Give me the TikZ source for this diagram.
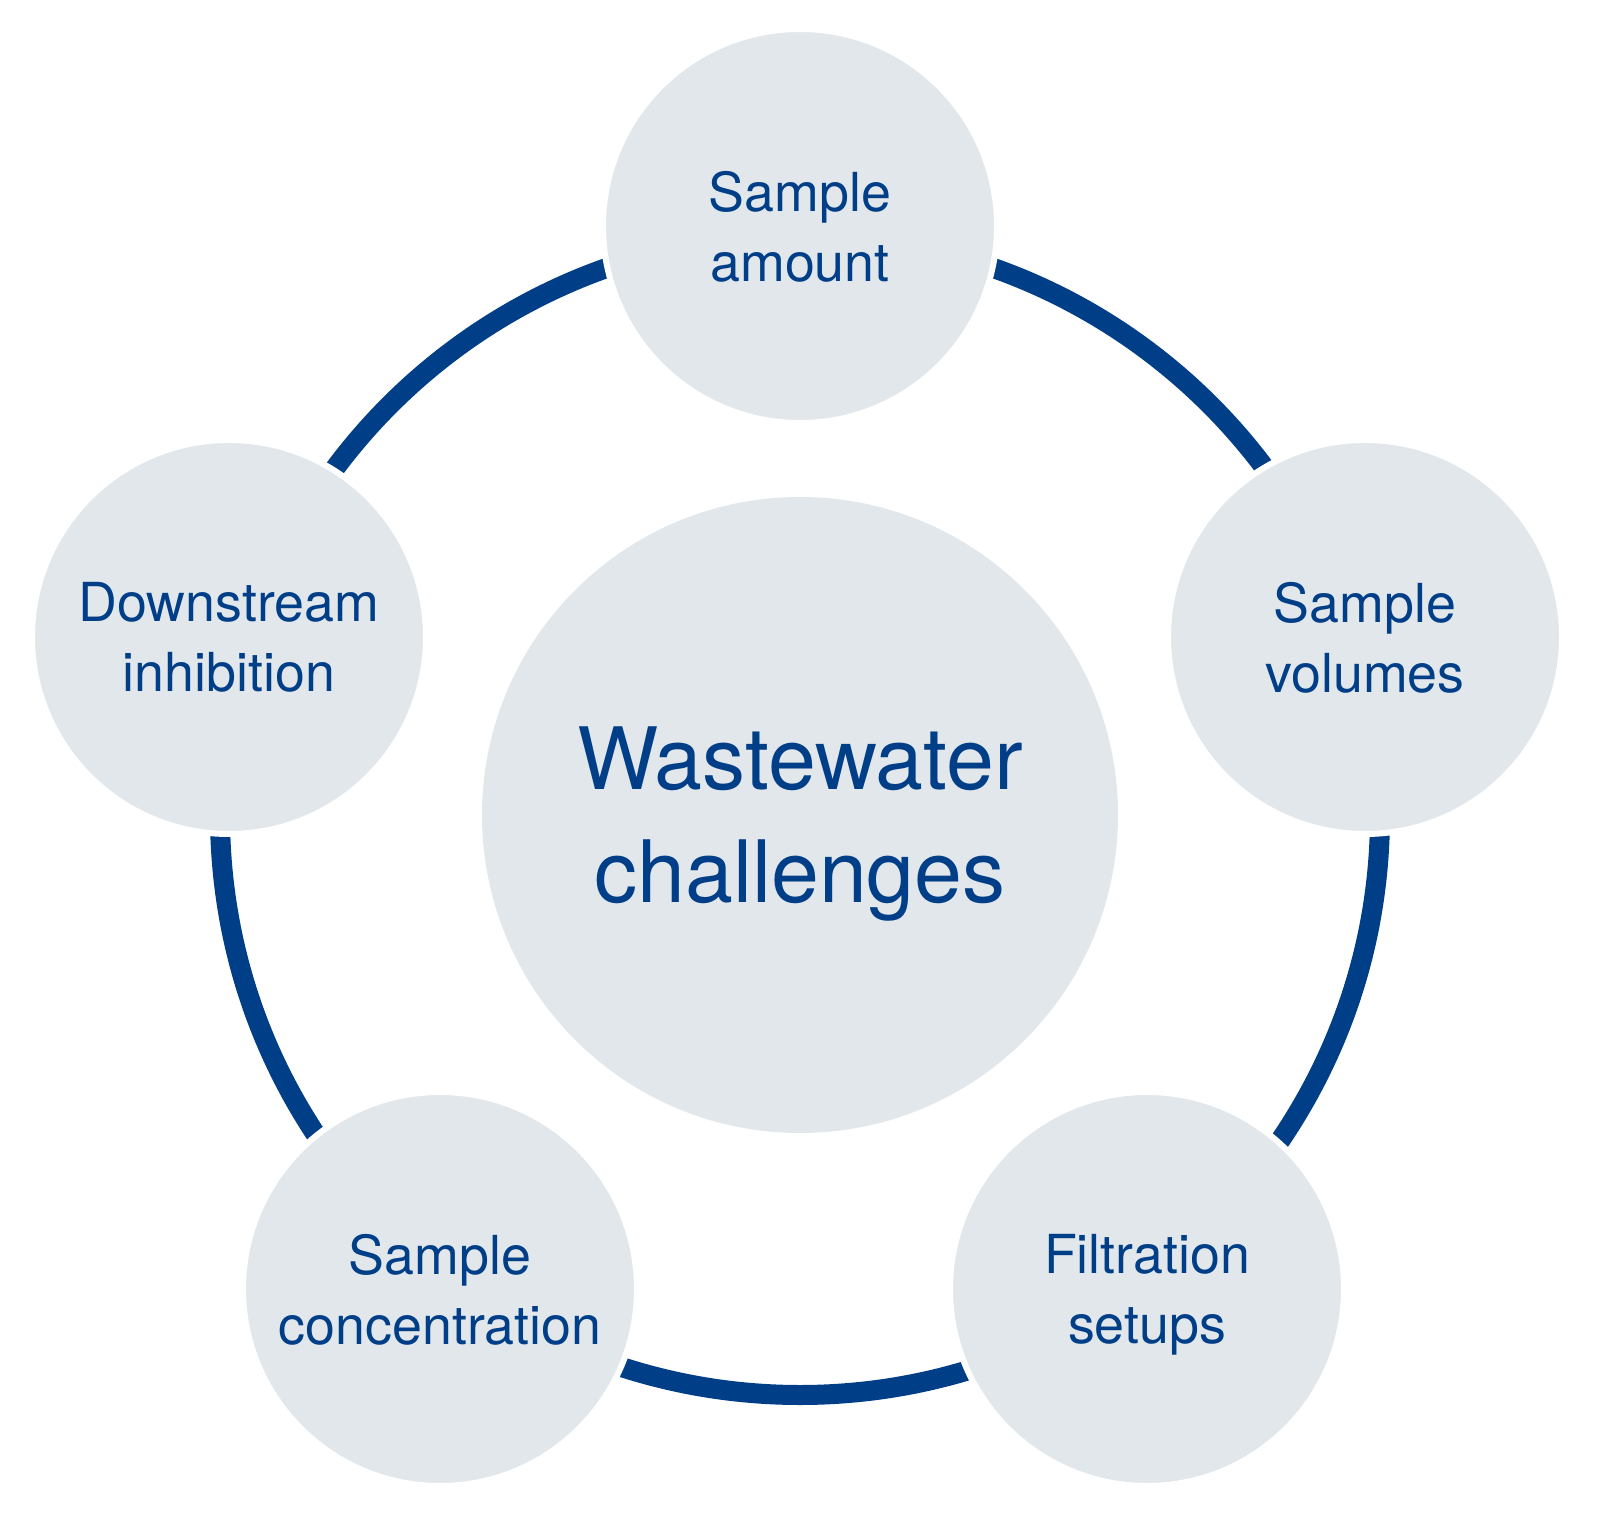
\documentclass[tikz,border=0pt]{standalone}
\usepackage{fontspec}
\setmainfont{TeX Gyre Heros}
\usepackage{tikz}
\definecolor{WWblue}{RGB}{0,63,135}
\definecolor{WWgray}{RGB}{226,231,236}
\tikzset{hub/.style={circle, fill=WWgray, text=WWblue, align=center, text depth=0pt, inner sep=0pt,
 minimum size=6.36cm, font=\fontsize{24.5}{32.1}\selectfont}}
\tikzset{issue/.style={circle, draw=white, line width=0.06cm, fill=WWgray, text=WWblue, align=center,
 text depth=0pt, inner sep=0pt, minimum size=3.94cm, font=\fontsize{15.3}{19.9}\selectfont}}
\tikzset{ring/.style={draw=WWblue, line width=0.2cm}}

\begin{document}
\begin{tikzpicture}
        \useasboundingbox (-8,-7.01) rectangle (8,8.15);
        \coordinate (o) at (0,0);
        \path[ring] (o) circle (5.8);

        \node[hub]   (ctr) at (o) {Wastewater\\challenges};
        \node[issue] (amt) at (0,5.89)      {Sample\\amount};
        \node[issue] (vol) at (5.65,1.78)   {Sample\\volumes};
        \node[issue] (flt) at (3.47,-4.74)  {Filtration\\setups};
        \node[issue] (cnc) at (-3.60,-4.74) {Sample\\concentration};
        \node[issue] (inh) at (-5.71,1.78)  {Downstream\\inhibition};
      \end{tikzpicture}
\end{document}
